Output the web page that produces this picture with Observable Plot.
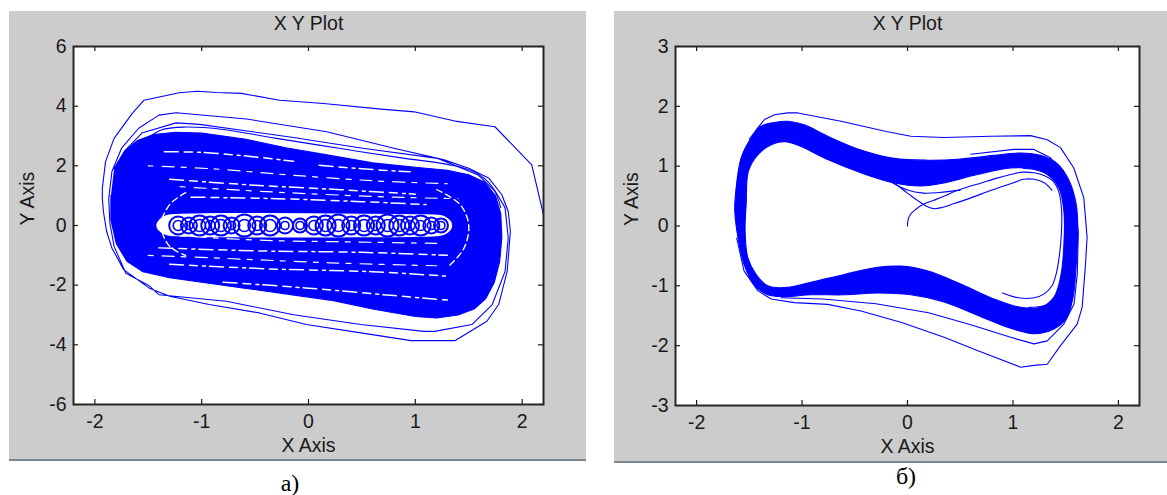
<!DOCTYPE html>
<html><head><meta charset="utf-8">
<script src="https://cdn.jsdelivr.net/npm/d3@7"></script>
<script src="https://cdn.jsdelivr.net/npm/@observablehq/plot@0.6"></script>
<style>
html,body{margin:0;padding:0;background:#fff;width:1167px;height:495px;overflow:hidden;position:relative}
.panel{position:absolute;background:#cccccc;border-bottom:2px solid #7d8794}
.panel svg{display:block}
.cap{position:absolute;font-family:"Liberation Serif","Times New Roman",serif;font-size:24px;color:#000;text-align:center;width:100px;height:26px;line-height:26px}
</style></head><body>
<div id="pa" class="panel" style="left:9px;top:11px;width:577px;height:448px"></div>
<div id="pb" class="panel" style="left:614px;top:11px;width:553px;height:450px"></div>
<div class="cap" style="left:240px;top:470px">а)</div>
<div class="cap" style="left:856px;top:463px">б)</div>
<script>
// ---------- shared text ----------
const titleText = "X Y Plot";
const xLabelText = "X Axis";
const yLabelText = "Y Axis";
const xTicks = [-2, -1, 0, 1, 2];
const yTicksA = [-6, -4, -2, 0, 2, 4, 6];
const yTicksB = [-3, -2, -1, 0, 1, 2, 3];

// ---------- panel a) data (x, y read from picture) ----------
const aTransient = [
 [2.21,-6.2],[2.21,-5.55],[2.3,-4.8],[2.36,-3],[2.34,-1],[2.2,0.36],[2.09,2.03],[1.745,3.31],[1.37,3.5],
 [0.99,3.81],[0.68,3.9],[0.14,4.09],[-0.27,4.2],[-0.63,4.43],[-0.86,4.46],[-1.04,4.5],[-1.21,4.45],
 [-1.54,4.2],[-1.65,3.76],[-1.82,2.92],[-1.9,2.14],[-1.93,1.25],[-1.93,0.91],[-1.92,0.47],[-1.89,-0.2],
 [-1.84,-0.76],[-1.73,-1.48],[-1.49,-2.1],[-1.3,-2.37],[-0.93,-2.65],[-0.46,-2.93],[-0.02,-3.32],
 [0.49,-3.6],[0.96,-3.86],[1.37,-3.86],[1.67,-3.21],[1.78,-2.65],[1.86,-1.54],[1.89,-0.2],[1.87,0.47],
 [1.81,1.03],[1.69,1.58],[1.5,1.92],[1.27,2.2],[0.8,2.59],[0.17,3.14],[-0.58,3.57],[-1.24,3.78],
 [-1.4,3.7],[-1.59,3.26],[-1.75,2.59],[-1.84,1.81],[-1.87,0.91],[-1.86,0.1],[-1.82,-0.7],[-1.71,-1.6],
 [-1.5,-2.0],[-1.4,-2.32],[-0.77,-2.54],[-0.14,-2.99],[0.49,-3.32],[1.08,-3.55],[1.18,-3.55],
 [1.53,-3.32],[1.72,-2.65],[1.84,-1.54],[1.87,-0.42],[1.84,0.6],[1.75,1.14],[1.59,1.69],[1.21,2.25],
 [0.49,2.6],[-0.14,2.95],[-1.02,3.39],[-1.24,3.44],[-1.56,3.1],[-1.72,2.5],[-1.82,1.9]
];
const aLoop2 = [
 [-1.8,1.6],[-1.7,2.3],[-1.55,2.8],[-1.38,3.2],[-1.15,3.3],[-0.8,3.22],[-0.3,2.92],[0.3,2.58],
 [0.9,2.25],[1.3,2.05],[1.55,1.8],[1.72,1.3],[1.8,0.6]
];
const aBlob = [
 [-1.82,1.9],[-1.72,2.5],[-1.6,2.85],[-1.45,3.05],[-1.25,3.12],[-1.0,3.1],[-0.6,2.9],[-0.2,2.6],
 [0.2,2.35],[0.6,2.1],[1.0,1.95],[1.3,1.85],[1.5,1.7],[1.65,1.45],[1.75,1.0],[1.8,0.4],[1.81,-0.4],
 [1.79,-1.2],[1.74,-1.9],[1.66,-2.45],[1.55,-2.8],[1.4,-3.0],[1.2,-3.1],[1.0,-3.05],[0.6,-2.8],
 [0.2,-2.5],[-0.2,-2.3],[-0.6,-2.1],[-1.0,-1.9],[-1.3,-1.75],[-1.55,-1.55],[-1.7,-1.2],[-1.8,-0.6],
 [-1.85,0.2],[-1.85,1.0]
];
const aGap1 = [[-1.35,2.47],[-1.0,2.45],[-0.5,2.3],[-0.14,2.15]];
const aGap2 = [[0.1,2.02],[0.5,1.9],[0.95,1.8]];
const aGap3 = [[-1.3,1.55],[-0.5,1.35],[0.3,1.2],[1.0,1.05]];
const aGap4 = [[-1.1,0.95],[-0.3,0.9],[0.5,0.8],[1.1,0.7]];
const aGap5 = [[-1.4,-0.75],[-0.5,-0.85],[0.5,-0.9],[1.3,-1.0]];
const aGap6 = [[-1.3,-1.3],[-0.4,-1.45],[0.6,-1.55],[1.3,-1.7]];
const aGap7 = [[-0.8,-1.9],[0.0,-2.1],[0.8,-2.35],[1.3,-2.5]];
const aGap10 = [[-1.5,2.0],[-0.9,1.9],[-0.2,1.7],[0.6,1.5],[1.3,1.4]];
const aGap11 = [[-1.2,-0.35],[-0.4,-0.5],[0.4,-0.55],[1.2,-0.6]];
const aGap12 = [[-1.5,-1.0],[-0.8,-1.1],[0.2,-1.25],[1.2,-1.35]];
const aGap13 = [[-1.2,1.3],[-0.2,1.1],[0.8,0.95],[1.4,0.9]];
const aGap8 = [[-1.15,1.1],[-1.3,0.7],[-1.38,0],[-1.3,-0.7],[-1.15,-1.0]];
const aGap9 = [[1.2,1.2],[1.42,0.7],[1.5,0],[1.45,-0.8],[1.3,-1.4]];
const aHole = [
 [-1.42,0],[-1.35,0.3],[-1.1,0.38],[-0.5,0.4],[0.3,0.38],[1.0,0.36],[1.28,0.28],[1.34,0],
 [1.28,-0.28],[1.0,-0.36],[0.3,-0.38],[-0.5,-0.38],[-1.1,-0.36],[-1.35,-0.28]
];
const ringX = [-1.22,-1.12,-1.02,-0.92,-0.82,-0.72,-0.6,-0.48,-0.36,-0.22,-0.08,0.05,0.16,0.28,0.4,0.52,0.63,0.74,0.85,0.95,1.05,1.15,1.24];
const ringR = [9,8,10,9,10,8,11,9,10,8,7,9,10,11,9,10,9,11,10,9,10,8,7];
const ringR2 = [5,4,6,5,6,4,6,5,6,4,4,5,6,6,5,6,5,6,6,5,5,4,4];

// ---------- panel б) data ----------
const bBandOuter = [
 [-1.634,0.47],[-1.577,1.14],[-1.483,1.47],[-1.388,1.67],[-1.262,1.73],[-1.136,1.75],[-0.978,1.69],
 [-0.757,1.5],[-0.442,1.27],[-0.126,1.13],[0.189,1.1],[0.505,1.12],[0.82,1.18],[1.073,1.22],
 [1.262,1.18],[1.42,1.04],[1.535,0.75],[1.6,0.36],[1.615,-0.08],[1.6,-0.64],[1.57,-1.19],
 [1.505,-1.55],[1.388,-1.72],[1.199,-1.8],[0.978,-1.71],[0.662,-1.49],[0.347,-1.27],[0.032,-1.15],
 [-0.284,-1.12],[-0.599,-1.15],[-0.915,-1.15],[-1.167,-1.18],[-1.325,-1.15],[-1.455,-0.98],
 [-1.55,-0.64],[-1.608,-0.19],[-1.638,0.25]
];
const bBandInner = [
 [-1.53,0.36],[-1.508,0.92],[-1.42,1.19],[-1.293,1.36],[-1.167,1.41],[-1.009,1.33],[-0.757,1.11],
 [-0.442,0.89],[-0.126,0.72],[0.126,0.67],[0.347,0.72],[0.662,0.86],[0.978,0.97],[1.167,0.96],
 [1.325,0.86],[1.435,0.64],[1.483,0.25],[1.483,-0.31],[1.451,-0.86],[1.388,-1.19],[1.262,-1.36],
 [1.073,-1.36],[0.82,-1.22],[0.505,-0.97],[0.189,-0.75],[-0.063,-0.67],[-0.284,-0.69],[-0.599,-0.81],
 [-0.915,-0.94],[-1.167,-1.03],[-1.325,-1.0],[-1.435,-0.81],[-1.514,-0.53],[-1.54,-0.08]
];
const bOuter1 = [
 [-1.5,1.45],[-1.42,1.64],[-1.356,1.78],[-1.262,1.86],[-1.136,1.89],[-1.04,1.89],[-0.631,1.75],[-0.2,1.58],
 [0.032,1.5],[0.347,1.48],[0.789,1.5],[1.167,1.51],[1.325,1.44],[1.451,1.31],[1.577,0.97],
 [1.672,0.47],[1.703,-0.19],[1.688,-0.64],[1.656,-1.36],[1.609,-1.64],[1.451,-2.0],[1.325,-2.31],
 [1.199,-2.33],[1.073,-2.36],[0.662,-2.08],[0.347,-1.86],[-0.063,-1.61],[-0.442,-1.42],[-0.757,-1.31],
 [-1.073,-1.28],[-1.293,-1.22],[-1.42,-1.08],[-1.55,-0.75],[-1.62,-0.2]
];
const bOuter2 = [
 [0.6,1.2],[1.009,1.28],[1.199,1.28],[1.356,1.14],[1.483,0.86],[1.577,0.47],[1.62,-0.1],[1.61,-0.8],
 [1.58,-1.3],[1.483,-1.64],[1.325,-1.92],[1.199,-1.97],[0.978,-1.86],[0.6,-1.65],[0.2,-1.45],
 [-0.3,-1.3],[-0.8,-1.22],[-1.2,-1.2]
];
const bTrans1 = [
 [0,0],[0.005,0.1],[0.03,0.2],[0.08,0.28],[0.16,0.37],[0.25,0.43],[0.35,0.5],[0.45,0.58],[0.55,0.64],
 [0.7,0.72],[0.85,0.8],[1.0,0.87],[1.1,0.9],[1.2,0.89],[1.3,0.84],[1.38,0.75],[1.43,0.6],[1.46,0.3],
 [1.46,-0.1],[1.44,-0.5],[1.41,-0.8],[1.37,-1.0],[1.3,-1.13],[1.2,-1.2],[1.05,-1.2],[0.9,-1.12]
];
const bTrans2 = [
 [-0.2,0.78],[-0.1,0.68],[0.0,0.55],[0.1,0.42],[0.18,0.33],[0.25,0.29],[0.33,0.31],[0.45,0.38],
 [0.6,0.47],[0.8,0.6],[1.0,0.72],[1.1,0.78],[1.2,0.78],[1.3,0.72],[1.37,0.6]
];
const bTrans3 = [[-0.15,0.73],[0.0,0.6],[0.15,0.55],[0.3,0.56],[0.5,0.6]];
const bInner = [
 [1.1,0.96],[1.25,0.93],[1.38,0.82],[1.46,0.6],[1.49,0.2],[1.49,-0.4],[1.46,-0.9],[1.4,-1.2],
 [1.3,-1.33],[1.15,-1.36]
];

const BLUE = "#0000ff";
const INK = "#1a1a1a";
const FONT = "Liberation Sans, Arial, sans-serif";
const FS = 19.5;
const px = d => d[0], py = d => d[1];

function frameParts(W, H, m, yTicks, yLabDx) {
  const pw = W - m.l - m.r, ph = H - m.t - m.b;
  const t = {fontSize: FS, fontFamily: FONT, fill: INK, lineAnchor: "middle"};
  return [
    Plot.tickX(xTicks, {x: d => d, stroke: INK, strokeWidth: 1.2, insetTop: ph - 5}),
    Plot.tickX(xTicks, {x: d => d, stroke: INK, strokeWidth: 1.2, insetBottom: ph - 5}),
    Plot.tickY(yTicks, {y: d => d, stroke: INK, strokeWidth: 1.2, insetRight: pw - 5}),
    Plot.tickY(yTicks, {y: d => d, stroke: INK, strokeWidth: 1.2, insetLeft: pw - 5}),
    Plot.frame({stroke: "#262626", strokeWidth: 2}),
    Plot.text(xTicks, {x: d => d, frameAnchor: "bottom", dy: 17, text: d => String(d), ...t}),
    Plot.text(yTicks, {y: d => d, frameAnchor: "left", dx: -7, textAnchor: "end", text: d => String(d), ...t}),
    Plot.text([titleText], {frameAnchor: "top", dy: -23, ...t}),
    Plot.text([xLabelText], {frameAnchor: "bottom", dy: 41, ...t}),
    Plot.text([yLabelText], {frameAnchor: "left", dx: yLabDx, rotate: -90, ...t})
  ];
}

const line = (data, o = {}) => Plot.line(data, {x: px, y: py, stroke: BLUE, strokeWidth: 1.1, clip: true, curve: "linear", ...o});

// ---------- panel a ----------
const mA = {l: 64, r: 43, t: 35, b: 55};
const WA = 577, HA = 448;
const plotA = Plot.plot({
  width: WA, height: HA,
  marginLeft: mA.l, marginRight: mA.r, marginTop: mA.t, marginBottom: mA.b,
  x: {domain: [-2.2, 2.2], axis: null},
  y: {domain: [-6, 6], axis: null},
  r: {type: "identity"},
  style: {background: "transparent", overflow: "visible"},
  marks: [
    Plot.frame({fill: "white", stroke: "none"}),
    line(aTransient),
    line(aLoop2, {curve: "catmull-rom"}),
    line(aBlob, {fill: BLUE}),
    ...[aGap1, aGap2, aGap3, aGap4, aGap5, aGap6, aGap7].map(g => line(g, {stroke: "white", strokeWidth: 1.5, strokeDasharray: "14 6 8 5 3 4", curve: "catmull-rom"})),
    ...[aGap10, aGap11, aGap12, aGap13].map(g => line(g, {stroke: "white", strokeWidth: 1.2, strokeDasharray: "5 9 12 7", curve: "catmull-rom"})),
    ...[aGap8, aGap9].map(g => line(g, {stroke: "white", strokeWidth: 1.4, strokeDasharray: "6 4", curve: "catmull-rom"})),
    line(aHole, {fill: "white", stroke: "white", curve: "catmull-rom-closed"}),
    Plot.dot(ringX, {x: d => d, y: () => 0, r: (d, i) => ringR[i], stroke: BLUE, fill: "none", strokeWidth: 2}),
    Plot.dot(ringX, {x: d => d, y: () => 0, r: (d, i) => ringR2[i], stroke: BLUE, fill: "none", strokeWidth: 1.6}),
    ...frameParts(WA, HA, mA, yTicksA, -46)
  ]
});
document.getElementById("pa").append(plotA);

// ---------- panel b ----------
const mB = {l: 61, r: 28, t: 35, b: 56};
const WB = 553, HB = 450;
const plotB = Plot.plot({
  width: WB, height: HB,
  marginLeft: mB.l, marginRight: mB.r, marginTop: mB.t, marginBottom: mB.b,
  x: {domain: [-2.2, 2.2], axis: null},
  y: {domain: [-3, 3], axis: null},
  style: {background: "transparent", overflow: "visible"},
  marks: [
    Plot.frame({fill: "white", stroke: "none"}),
    line(bBandOuter, {fill: BLUE, curve: "catmull-rom-closed"}),
    line(bBandInner, {fill: "white", stroke: BLUE, curve: "catmull-rom-closed"}),
    line(bOuter1, {curve: "linear"}),
    line(bOuter2, {curve: "linear"}),
    line(bTrans1, {curve: "catmull-rom"}),
    line(bTrans2, {curve: "catmull-rom"}),
    line(bTrans3, {curve: "catmull-rom"}),
    line(bInner, {curve: "catmull-rom"}),
    ...frameParts(WB, HB, mB, yTicksB, -44)
  ]
});
document.getElementById("pb").append(plotB);
</script>
</body></html>
